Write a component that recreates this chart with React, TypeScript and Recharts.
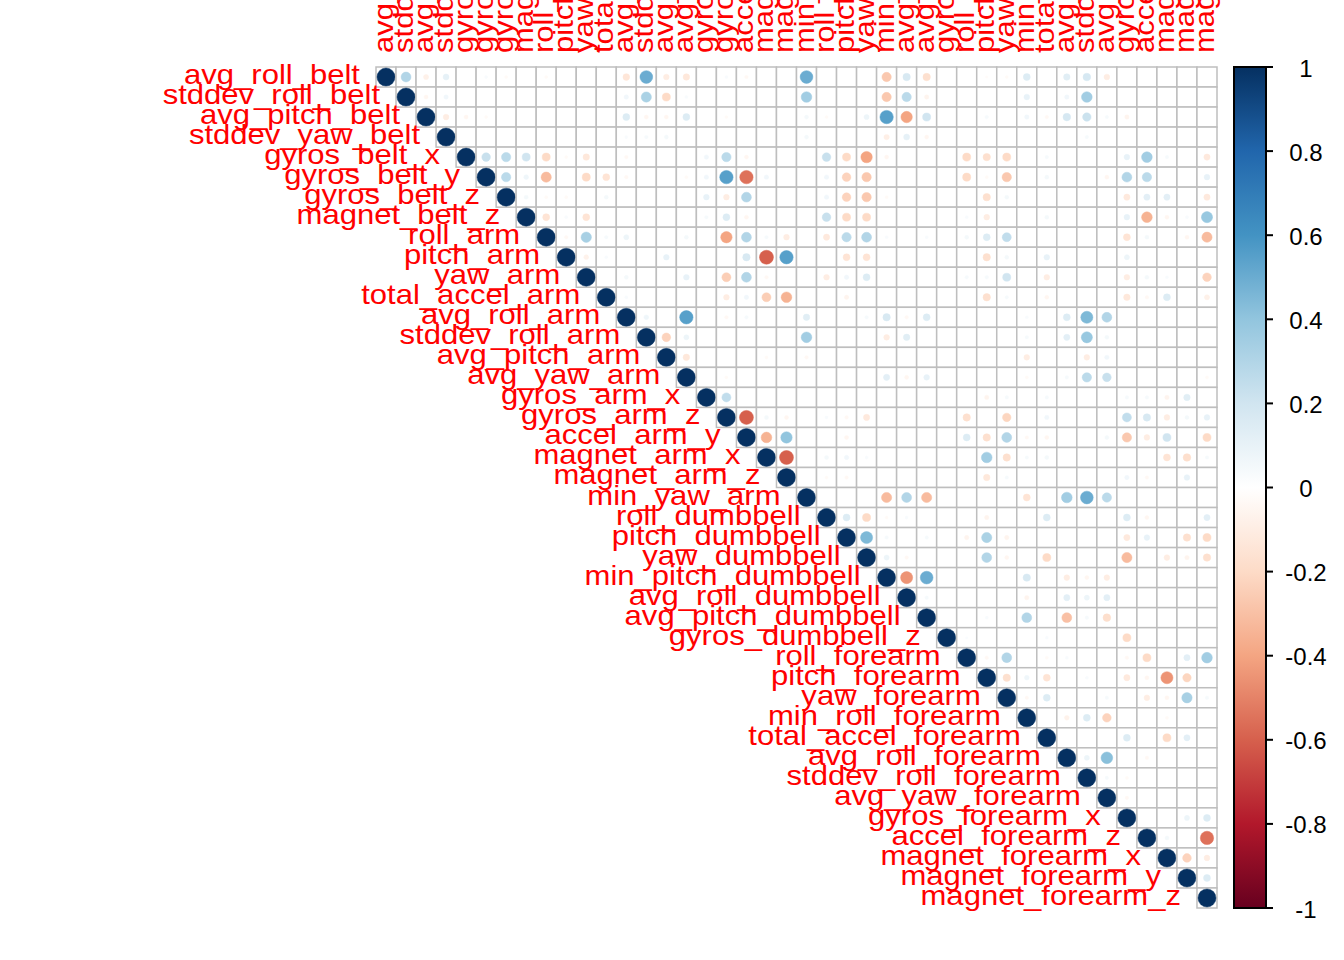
import { ScatterChart, Scatter, XAxis, YAxis } from "recharts";

const variables = [
  "avg_roll_belt", "stddev_roll_belt", "avg_pitch_belt", "stddev_yaw_belt",
  "gyros_belt_x", "gyros_belt_y", "gyros_belt_z", "magnet_belt_z",
  "roll_arm", "pitch_arm", "yaw_arm", "total_accel_arm",
  "avg_roll_arm", "stddev_roll_arm", "avg_pitch_arm", "avg_yaw_arm",
  "gyros_arm_x", "gyros_arm_z", "accel_arm_y", "magnet_arm_x",
  "magnet_arm_z", "min_yaw_arm", "roll_dumbbell", "pitch_dumbbell",
  "yaw_dumbbell", "min_pitch_dumbbell", "avg_roll_dumbbell", "avg_pitch_dumbbell",
  "gyros_dumbbell_z", "roll_forearm", "pitch_forearm", "yaw_forearm",
  "min_roll_forearm", "total_accel_forearm", "avg_roll_forearm", "stddev_roll_forearm",
  "avg_yaw_forearm", "gyros_forearm_x", "accel_forearm_z", "magnet_forearm_x",
  "magnet_forearm_y", "magnet_forearm_z",
];

// [row, col, r] (1-based, upper triangle); cells not listed are ~0
const correlations: [number, number, number][] = [
  [1,2,0.3],[1,3,-0.08],[1,4,0.11],[1,6,0.03],[1,7,-0.03],[1,9,-0.03],[1,13,-0.14],[1,14,0.5],[1,15,-0.1],[1,16,-0.13],[1,18,0.03],[1,19,-0.04],[1,22,0.5],[1,26,-0.27],[1,27,0.17],[1,28,-0.17],[1,31,-0.02],[1,32,-0.03],[1,33,0.15],[1,35,0.13],[1,36,0.18],[1,37,-0.1],
  [2,3,-0.05],[2,4,0.06],[2,13,0.06],[2,14,0.32],[2,15,-0.2],[2,16,0.03],[2,22,0.35],[2,26,-0.27],[2,27,0.27],[2,28,-0.06],[2,33,0.1],[2,35,0.06],[2,36,0.35],
  [3,4,-0.1],[3,5,-0.05],[3,6,-0.03],[3,13,0.15],[3,14,-0.05],[3,15,-0.05],[3,16,0.15],[3,18,-0.03],[3,22,0.05],[3,23,-0.03],[3,25,0.08],[3,26,0.55],[3,27,-0.4],[3,28,0.2],[3,31,0.04],[3,33,0.06],[3,34,-0.04],[3,35,0.18],[3,36,0.22],[3,37,0.04],[3,38,-0.06],
  [4,13,0.03],[4,14,0.04],[4,15,0.05],[4,22,0.05],[4,26,-0.09],[4,27,0.11],[4,28,-0.05],[4,36,0.04],
  [5,6,0.23],[5,7,0.27],[5,8,0.2],[5,9,-0.2],[5,10,-0.03],[5,11,-0.13],[5,13,-0.04],[5,17,0.06],[5,18,0.27],[5,19,-0.05],[5,23,0.23],[5,24,-0.2],[5,25,-0.4],[5,26,-0.05],[5,30,-0.2],[5,31,-0.17],[5,32,-0.2],[5,34,0.04],[5,38,0.1],[5,39,0.35],[5,40,0.04],[5,42,-0.12],
  [6,7,0.27],[6,8,0.07],[6,9,-0.32],[6,11,-0.2],[6,12,-0.15],[6,13,-0.04],[6,16,-0.03],[6,17,0.06],[6,18,0.55],[6,19,-0.55],[6,20,0.06],[6,23,0.06],[6,24,-0.23],[6,25,-0.27],[6,30,-0.2],[6,31,-0.03],[6,32,-0.27],[6,34,0.05],[6,37,-0.05],[6,38,0.3],[6,39,0.27],[6,42,0.1],
  [7,8,0.05],[7,9,-0.03],[7,10,-0.03],[7,12,0.05],[7,17,0.1],[7,18,-0.1],[7,19,0.3],[7,23,0.06],[7,24,-0.23],[7,25,-0.27],[7,26,-0.03],[7,31,-0.17],[7,32,0.05],[7,38,-0.12],[7,39,0.12],[7,40,0.12],[7,42,-0.12],
  [8,9,-0.15],[8,10,0.03],[8,11,-0.15],[8,17,0.04],[8,18,0.15],[8,19,-0.05],[8,23,0.23],[8,24,-0.2],[8,25,-0.2],[8,30,0.03],[8,31,-0.1],[8,34,0.05],[8,38,0.1],[8,39,-0.35],[8,40,-0.05],[8,41,0.03],[8,42,0.38],
  [9,10,-0.04],[9,11,0.33],[9,12,0.04],[9,13,0.08],[9,16,0.05],[9,18,-0.4],[9,19,0.3],[9,20,0.04],[9,21,-0.1],[9,23,-0.12],[9,24,0.27],[9,25,0.3],[9,26,0.03],[9,28,0.03],[9,30,0.05],[9,31,0.15],[9,32,0.25],[9,38,-0.15],[9,39,0.05],[9,41,-0.05],[9,42,-0.32],
  [10,11,-0.07],[10,12,0.03],[10,15,0.1],[10,19,0.17],[10,20,-0.6],[10,21,0.55],[10,24,-0.15],[10,25,-0.15],[10,31,-0.17],[10,32,0.05],[10,34,0.1],[10,38,0.08],
  [11,13,0.05],[11,16,0.1],[11,18,-0.25],[11,19,0.3],[11,20,-0.04],[11,23,-0.1],[11,24,0.06],[11,25,0.15],[11,30,0.04],[11,31,0.04],[11,32,0.2],[11,34,-0.1],[11,38,-0.1],[11,39,0.05],[11,40,0.03],[11,42,-0.23],
  [12,13,0.03],[12,18,-0.1],[12,19,0.06],[12,20,-0.25],[12,21,-0.35],[12,24,-0.06],[12,31,-0.17],[12,32,0.04],[12,34,-0.05],[12,38,-0.13],[12,39,-0.04],[12,40,0.15],[12,42,-0.08],
  [13,14,0.07],[13,16,0.55],[13,18,-0.04],[13,19,0.04],[13,22,0.13],[13,25,0.04],[13,26,0.17],[13,27,-0.04],[13,28,0.15],[13,33,0.03],[13,35,0.15],[13,36,0.45],[13,37,0.3],
  [14,15,-0.23],[14,16,0.08],[14,22,0.35],[14,26,-0.1],[14,27,0.13],[14,33,0.04],[14,35,0.12],[14,36,0.38],[14,37,0.05],
  [15,16,-0.13],[15,20,-0.03],[15,22,-0.04],[15,33,-0.1],[15,36,-0.1],[15,37,0.06],
  [16,18,-0.03],[16,26,0.12],[16,27,-0.05],[16,28,0.1],[16,33,-0.03],[16,35,0.04],[16,36,0.27],[16,37,0.23],[16,42,-0.03],
  [17,18,0.25],[17,31,-0.06],[17,32,0.04],[17,34,0.04],[17,38,0.04],[17,39,0.04],[17,40,-0.06],[17,41,0.13],
  [18,19,-0.6],[18,20,0.05],[18,21,-0.05],[18,23,0.03],[18,24,-0.04],[18,25,-0.12],[18,30,-0.17],[18,32,-0.22],[18,34,0.06],[18,38,0.25],[18,39,0.17],[18,40,-0.1],[18,41,0.05],[18,42,0.1],
  [19,20,-0.35],[19,21,0.4],[19,24,-0.05],[19,30,0.15],[19,31,-0.17],[19,32,0.3],[19,33,-0.04],[19,34,-0.05],[19,37,0.05],[19,38,-0.27],[19,39,-0.1],[19,40,0.2],[19,42,-0.2],
  [20,21,-0.6],[20,23,0.05],[20,24,0.06],[20,25,0.03],[20,31,0.35],[20,32,-0.17],[20,33,0.04],[20,34,0.05],[20,40,-0.15],[20,41,-0.18],[20,42,0.04],
  [21,23,-0.03],[21,24,-0.04],[21,31,-0.13],[21,32,0.04],[21,38,0.06],[21,39,-0.04],[21,41,0.1],
  [22,26,-0.32],[22,27,0.3],[22,28,-0.32],[22,33,-0.15],[22,35,0.35],[22,36,0.5],[22,37,0.27],
  [23,24,0.15],[23,25,-0.2],[23,26,-0.03],[23,27,0.03],[23,31,-0.06],[23,34,0.15],[23,38,0.15],[23,39,-0.05],[23,42,0.12],
  [24,25,0.45],[24,26,0.04],[24,28,0.04],[24,30,-0.06],[24,31,0.32],[24,32,-0.06],[24,38,-0.12],[24,39,0.1],[24,41,-0.17],[24,42,-0.2],
  [25,26,0.08],[25,27,-0.04],[25,31,0.3],[25,32,-0.05],[25,34,-0.2],[25,38,-0.32],[25,40,-0.1],[25,41,-0.06],[25,42,-0.17],
  [26,27,-0.45],[26,28,0.5],[26,33,0.17],[26,35,-0.1],[26,36,-0.05],[26,37,-0.1],
  [27,28,0.04],[27,33,-0.06],[27,35,0.12],[27,36,0.08],[27,37,0.12],
  [28,31,0.03],[28,33,0.3],[28,35,-0.3],[28,36,0.04],[28,37,-0.18],
  [29,30,0.02],[29,34,0.03],[29,38,-0.2],
  [30,31,-0.04],[30,32,0.3],[30,34,-0.03],[30,35,0.03],[30,38,-0.04],[30,39,-0.2],[30,41,0.12],[30,42,0.35],
  [31,32,-0.17],[31,33,0.07],[31,34,-0.15],[31,36,0.03],[31,38,-0.12],[31,39,-0.05],[31,40,-0.45],[31,41,-0.22],
  [32,33,-0.04],[32,34,0.15],[32,37,0.04],[32,39,-0.1],[32,40,-0.05],[32,41,0.33],[32,42,0.04],
  [33,35,-0.07],[33,36,0.15],[33,37,-0.23],[33,40,-0.03],
  [34,38,0.15],[34,40,-0.2],[34,41,0.12],
  [35,36,0.08],[35,37,0.42],[35,39,-0.04],
  [36,37,0.04],[36,38,-0.03],
  [37,38,-0.04],
  [38,41,0.08],[38,42,0.15],
  [39,40,0.05],[39,42,-0.55],
  [40,41,-0.23],[40,42,-0.1],
  [41,42,0.15],
];

const legendTicks = [1, 0.8, 0.6, 0.4, 0.2, 0, -0.2, -0.4, -0.6, -0.8, -1];

// RdBu palette, from -1 to 1
const palette = ["#67001F", "#B2182B", "#D6604D", "#F4A582", "#FDDBC7", "#FFFFFF",
  "#D1E5F0", "#92C5DE", "#4393C3", "#2166AC", "#053061"];

const W = 1344;
const H = 960;
const M = { top: 67, right: 127, bottom: 52, left: 376 };
const PLOT_W = W - M.left - M.right;
const PLOT_H = H - M.top - M.bottom;
const N = variables.length;
const CELL = PLOT_W / N;
const FONT = "'Liberation Sans', Arial, sans-serif";

const hex = (h: string) => [1, 3, 5].map((i) => parseInt(h.slice(i, i + 2), 16));

const colorFor = (r: number) => {
  const t = ((r + 1) / 2) * (palette.length - 1);
  const i = Math.min(Math.floor(t), palette.length - 2);
  const f = t - i;
  const a = hex(palette[i]);
  const b = hex(palette[i + 1]);
  const c = a.map((v, k) => Math.round(v + (b[k] - v) * f));
  return `rgb(${c[0]},${c[1]},${c[2]})`;
};

const lookup: Record<string, number> = {};
correlations.forEach(([i, j, r]) => (lookup[`${i}-${j}`] = r));

const cells: { x: number; y: number; r: number }[] = [];
for (let i = 1; i <= N; i++) {
  for (let j = i; j <= N; j++) {
    cells.push({ x: j, y: i, r: i === j ? 1 : lookup[`${i}-${j}`] ?? 0 });
  }
}

const rowLabels = variables.map((name, i) => ({ x: i + 1, y: i + 1, name }));
const colLabels = variables.map((name, i) => ({ x: i + 1, y: 0.5, name }));

const CellShape = (props: any) => {
  const { cx, cy, payload } = props;
  const r = payload.r;
  const rad = (0.9 * Math.sqrt(Math.abs(r)) * CELL) / 2;
  const col = colorFor(r);
  return (
    <g>
      <rect x={cx - CELL / 2} y={cy - CELL / 2} width={CELL} height={CELL}
        fill="#FFFFFF" stroke="#BEBEBE" strokeWidth={1.5} />
      {rad > 0.3 && <circle cx={cx} cy={cy} r={rad} fill={col} stroke={col} strokeWidth={0.5} />}
    </g>
  );
};

const RowLabel = (props: any) => {
  const { cx, cy, payload } = props;
  return (
    <text transform={`translate(${cx - CELL / 2 - 16},${cy + 7}) scale(1.15,1)`}
      textAnchor="end" fill="#FF0000" fontSize={27} fontFamily={FONT}>
      {payload.name}
    </text>
  );
};

const ColLabel = (props: any) => {
  const { cx, cy, payload } = props;
  return (
    <text transform={`translate(${cx + 7},${cy - 14}) rotate(-90) scale(1.15,1)`}
      textAnchor="start" fill="#FF0000" fontSize={27} fontFamily={FONT}>
      {payload.name}
    </text>
  );
};

const ColorBar = () => {
  const x0 = 1234;
  const bw = 32;
  const yOf = (v: number) => M.top + ((1 - v) / 2) * PLOT_H;
  return (
    <svg width={W} height={H} style={{ position: "absolute", left: 0, top: 0, pointerEvents: "none" }}>
      <defs>
        <linearGradient id="rdbu" x1="0" y1="1" x2="0" y2="0">
          {palette.map((c, i) => (
            <stop key={i} offset={i / (palette.length - 1)} stopColor={c} />
          ))}
        </linearGradient>
      </defs>
      <rect x={x0} y={M.top} width={bw} height={PLOT_H} fill="url(#rdbu)" stroke="#000" strokeWidth={2} />
      {legendTicks.map((v) => (
        <g key={v}>
          <line x1={x0 + bw} x2={x0 + bw + 7} y1={yOf(v)} y2={yOf(v)} stroke="#000" strokeWidth={2} />
          <text x={1306} y={yOf(v) + 1} textAnchor="middle" dominantBaseline="central"
            fontSize={24} fontFamily={FONT} fill="#000">
            {String(v)}
          </text>
        </g>
      ))}
    </svg>
  );
};

export default function App() {
  return (
    <div style={{ position: "absolute", left: 0, top: 0, width: W, height: H, background: "#fff" }}>
      <ScatterChart width={W} height={H} margin={M}>
        <XAxis type="number" dataKey="x" domain={[0.5, N + 0.5]} hide />
        <YAxis type="number" dataKey="y" domain={[0.5, N + 0.5]} reversed hide />
        <Scatter data={cells} shape={CellShape} isAnimationActive={false} />
        <Scatter data={rowLabels} shape={RowLabel} isAnimationActive={false} />
        <Scatter data={colLabels} shape={ColLabel} isAnimationActive={false} />
      </ScatterChart>
      <ColorBar />
    </div>
  );
}
